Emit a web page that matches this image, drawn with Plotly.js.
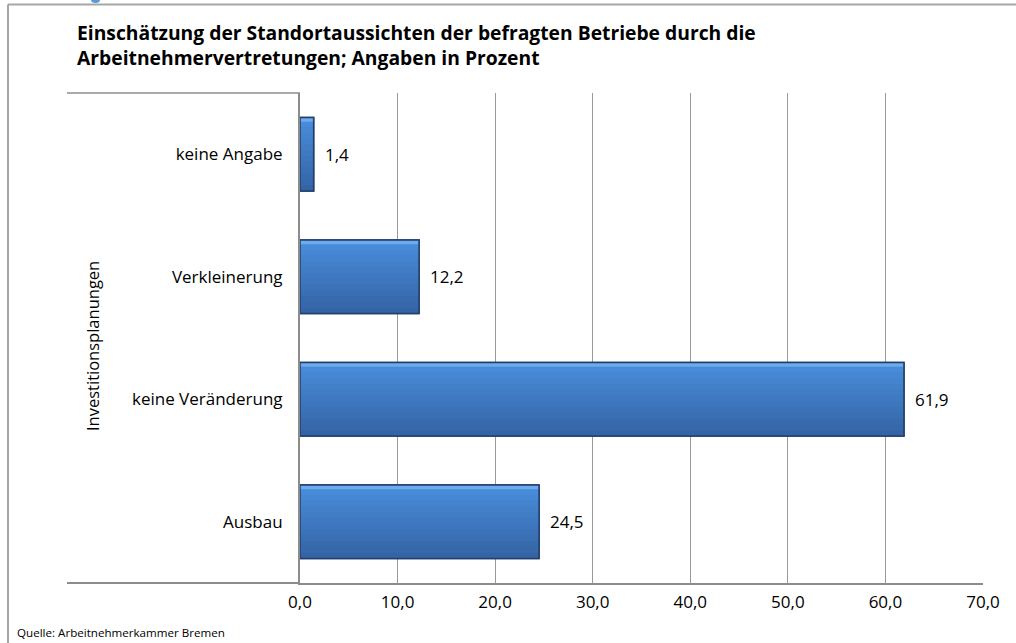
<!DOCTYPE html>
<html>
<head>
<meta charset="utf-8">
<script src="https://cdn.plot.ly/plotly-3.0.1.min.js"></script>
<style>html,body{margin:0;padding:0;background:#fff;}#chart{width:1016px;height:643px;}</style>
</head>
<body>
<div id="chart"></div>
<script>
// Data (bottom to top, as in the reference)
const categories = ["Ausbau", "keine Veränderung", "Verkleinerung", "keine Angabe"];
const values = [24.5, 61.9, 12.2, 1.4];
const tickValues = [0, 10, 20, 30, 40, 50, 60, 70];
const titleText = "Einschätzung der Standortaussichten der befragten Betriebe durch die<br>Arbeitnehmervertretungen; Angaben in Prozent";
const axisTitle = "Investitionsplanungen";
const sourceText = "Quelle: Arbeitnehmerkammer Bremen";

const W = 1016, H = 643;
const M = {l: 300, r: 33, t: 93, b: 60};
const PW = W - M.l - M.r, PH = H - M.t - M.b;
const px2x = p => (p - M.l) / PW;
const px2y = p => (H - M.b - p) / PH;

const fmt = v => v.toFixed(1).replace('.', ',');
const FONT = "'Open Sans', Lato, sans-serif";

// vertical colour gradient for the bars, drawn as thin overlaid bands (style only)
const BAR_W = 0.6, HALF = BAR_W / 2, HL = 0.035, NB = 12;
const topRGB = [72, 139, 216], botRGB = [52, 100, 165];
const mix = t => 'rgb(' + topRGB.map((c, k) => Math.round(c + (botRGB[k] - c) * t)).join(',') + ')';
const bands = [];
const gradSpan = BAR_W - HL;
for (let k = 0; k < NB; k++) {
  const w = gradSpan / NB;
  bands.push({offset: HALF - HL - (k + 1) * w, width: w + 0.002, color: mix(k / (NB - 1))});
}
bands.push({offset: HALF - HL, width: HL, color: '#6eabec'});

const mainBar = {
  type: 'bar', orientation: 'h', x: values, y: categories,
  width: BAR_W,
  marker: {color: '#3f7bc6', line: {color: '#213f6a', width: 1.5}},
  hoverinfo: 'x+y'
};
const bandTraces = bands.map(b => ({
  type: 'bar', orientation: 'h', x: values, y: categories,
  width: b.width, offset: b.offset,
  marker: {color: b.color, line: {width: 0}},
  hoverinfo: 'skip'
}));
const outline = {
  type: 'bar', orientation: 'h', x: values, y: categories,
  width: BAR_W,
  marker: {color: 'rgba(0,0,0,0)', line: {color: '#213f6a', width: 1.5}},
  hoverinfo: 'skip'
};

const labelAnnotations = categories.map((c, i) => ({
  x: values[i], y: c, xref: 'x', yref: 'y',
  text: fmt(values[i]), showarrow: false,
  xanchor: 'left', yanchor: 'middle', xshift: 9,
  font: {family: FONT, size: 17, color: '#000'}
}));

const layout = {
  width: W, height: H,
  margin: M,
  paper_bgcolor: '#fff', plot_bgcolor: '#fff',
  separators: ',.',
  showlegend: false,
  barmode: 'overlay',
  font: {family: FONT, size: 17, color: '#000'},
  title: {
    text: '<b>' + titleText + '</b>',
    x: 77 / W, xanchor: 'left', xref: 'container',
    y: 1 - 40 / H, yanchor: 'top', yref: 'container',
    font: {family: FONT, size: 19.3, color: '#000'}
  },
  xaxis: {
    range: [0, 70], tickvals: tickValues, tickformat: '.1f',
    showgrid: true, gridcolor: '#9a9a9a', gridwidth: 1,
    showline: true, linecolor: '#8c8c8c', linewidth: 2,
    zeroline: false, ticks: '', ticklabelstandoff: 3,
    tickfont: {family: FONT, size: 17, color: '#000'},
    fixedrange: true
  },
  yaxis: {
    type: 'category', categoryorder: 'array', categoryarray: categories,
    range: [-0.5, 3.5],
    showgrid: false, showline: true, linecolor: '#8c8c8c', linewidth: 2,
    ticks: '', ticklabelstandoff: 12,
    tickfont: {family: FONT, size: 17, color: '#000'},
    fixedrange: true
  },
  shapes: [
    {type: 'line', xref: 'paper', yref: 'paper', x0: px2x(8), x1: px2x(1020), y0: px2y(4.5), y1: px2y(4.5), line: {color: '#a6a6a6', width: 2}},
    {type: 'line', xref: 'paper', yref: 'paper', x0: px2x(8), x1: px2x(8), y0: px2y(4.5), y1: px2y(650), line: {color: '#a6a6a6', width: 2}},
    {type: 'line', xref: 'paper', yref: 'paper', x0: px2x(67), x1: 0, y0: 1, y1: 1, line: {color: '#8c8c8c', width: 1.5}},
    {type: 'line', xref: 'paper', yref: 'paper', x0: px2x(67), x1: 0, y0: 0, y1: 0, line: {color: '#8c8c8c', width: 2}},
    {type: 'circle', xref: 'paper', yref: 'paper', x0: px2x(91), x1: px2x(100), y0: px2y(3), y1: px2y(-3), fillcolor: '#5b9bd5', line: {width: 0}}
  ],
  annotations: labelAnnotations.concat([
    {x: px2x(92), y: px2y(346), xref: 'paper', yref: 'paper', text: axisTitle, textangle: -90,
     showarrow: false, xanchor: 'center', yanchor: 'middle', font: {family: FONT, size: 16.5, color: '#000'}},
    {x: px2x(15), y: px2y(632), xref: 'paper', yref: 'paper', text: sourceText,
     showarrow: false, xanchor: 'left', yanchor: 'middle', font: {family: FONT, size: 11.6, color: '#000'}}
  ])
};

Plotly.newPlot('chart', [mainBar].concat(bandTraces, [outline]), layout, {displayModeBar: false, staticPlot: true});
</script>
</body>
</html>
